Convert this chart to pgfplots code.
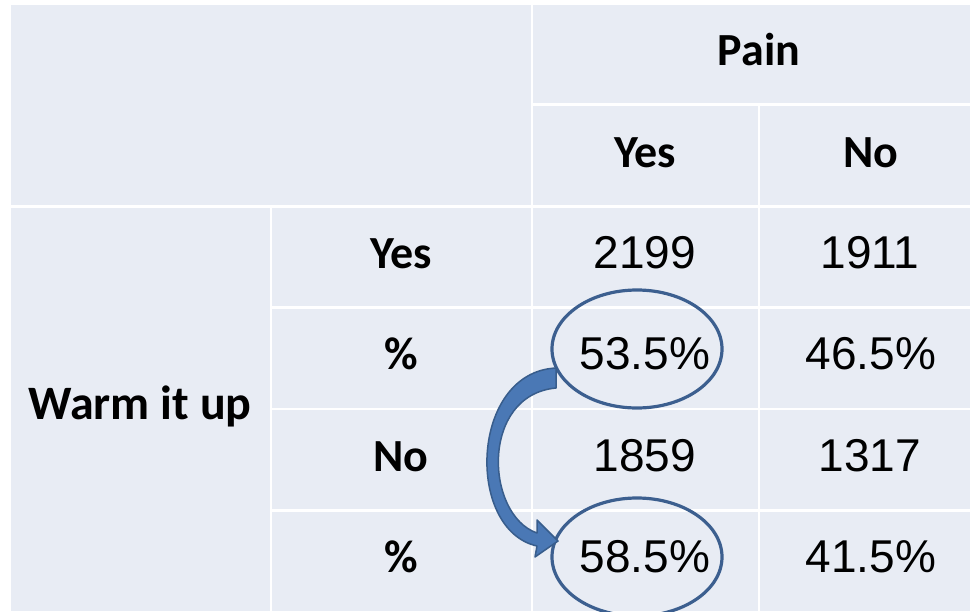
\documentclass[border=0pt]{standalone}
\usepackage{pgfplots}
\pgfplotsset{compat=1.18}
\usepackage{fontspec}
\setmainfont{Liberation Sans}
\newfontfamily\labfont{Carlito}
\newfontfamily\numfont{Liberation Sans}
\definecolor{cellbg}{RGB}{232,236,244}
\definecolor{ringc}{RGB}{60,95,143}
\definecolor{arrowfill}{RGB}{74,120,181}
\definecolor{arrowline}{RGB}{56,93,140}
\begin{document}
\begin{tikzpicture}
\begin{axis}[
  scale only axis, width=970pt, height=611pt,
  xmin=0, xmax=970, ymin=0, ymax=611, y dir=reverse,
  hide axis, clip=false,
  invis/.style={only marks, mark=*, mark size=0pt,
    scatter/use mapped color={draw=none, fill=none},
    point meta=explicit symbolic, nodes near coords},
]
% background and cell grid
\fill[white] (axis cs:0,0) rectangle (axis cs:970,611);
\fill[cellbg] (axis cs:11,5) rectangle (axis cs:970,611);
\begin{scope}[white, line width=2.5pt]
\draw (axis cs:532,104.5) -- (axis cs:970,104.5);
\draw (axis cs:11,206.5) -- (axis cs:970,206.5);
\draw (axis cs:271,307.5) -- (axis cs:970,307.5);
\draw (axis cs:271,409) -- (axis cs:970,409);
\draw (axis cs:271,510.5) -- (axis cs:970,510.5);
\draw (axis cs:271,206.5) -- (axis cs:271,611);
\draw (axis cs:532,5) -- (axis cs:532,611);
\draw (axis cs:759,104.5) -- (axis cs:759,611);
\end{scope}
% header / row labels
\addplot[invis,
  nodes near coords style={anchor=base, inner sep=0pt,
    font=\labfont\bfseries\fontsize{46}{50}\selectfont, text=black}]
  table[col sep=comma, meta=lab] {
x,y,lab
759,65,Pain
645,167,Yes
871,167,No
401,268,Yes
401,369,\%
401,471,No
401,572,\%
};
\addplot[invis,
  nodes near coords style={anchor=base, inner sep=0pt,
    font=\labfont\bfseries\fontsize{48}{52}\selectfont, text=black}]
  table[col sep=comma, meta=lab] {
x,y,lab
140,419,Warm it up
};
% counts
\addplot[invis,
  nodes near coords style={anchor=base, inner sep=0pt,
    font=\numfont\mdseries\fontsize{46}{50}\selectfont, text=black}]
  table[meta=v] {
x y v
645 268 2199
870 268 1911
645 471 1859
870 471 1317
};
% percentages
\addplot[invis, nodes near coords={\pgfplotspointmeta\%},
  nodes near coords style={anchor=base, inner sep=0pt,
    font=\numfont\mdseries\fontsize{46}{50}\selectfont, text=black}]
  table[meta=v] {
x y v
645 369 53.5
871 369 46.5
645 572 58.5
871 572 41.5
};
% highlight rings
\draw[ringc, line width=3.2pt] (axis cs:637,349) ellipse [x radius=85pt, y radius=59pt];
\draw[ringc, line width=3.2pt] (axis cs:637,557) ellipse [x radius=85pt, y radius=59pt];
% curved arrow
\filldraw[fill=arrowfill, draw=arrowline, line width=1.5pt, line join=round]
  (axis cs:556,368) .. controls (axis cs:470,372) and (axis cs:465,530) .. (axis cs:537,546)
  -- (axis cs:535,557) -- (axis cs:558,541) -- (axis cs:537,520) -- (axis cs:537,533)
  .. controls (axis cs:485,515) and (axis cs:480,395) .. (axis cs:556,388) -- cycle;
\end{axis}
\pgfresetboundingbox
\path (current axis.south west) rectangle (current axis.north east);
\end{tikzpicture}
\end{document}
